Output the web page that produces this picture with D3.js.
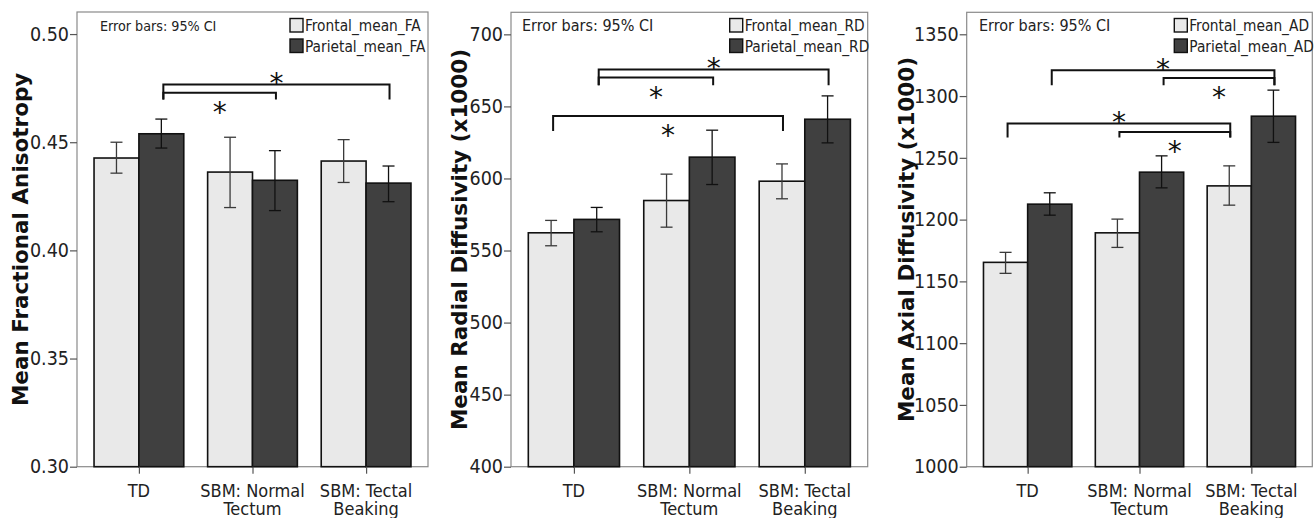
<!DOCTYPE html>
<html>
<head>
<meta charset="utf-8">
<script src="https://cdn.jsdelivr.net/npm/d3@7"></script>
<style>
  body { margin: 0; background: #fff; }
  svg { display: block; }
  .lbl { font-family: "Liberation Sans Narrow", "DejaVu Sans Condensed", "Arial Narrow", sans-serif; fill: #222; }
  .ytitle { font-family: "DejaVu Sans", Verdana, sans-serif; font-weight: bold; fill: #111; }
</style>
</head>
<body>
<div id="chart"></div>
<script>
// group labels (two lines each)
var groups = [["TD"], ["SBM: Normal", "Tectum"], ["SBM: Tectal", "Beaking"]];
var seriesNames = ["Frontal", "Parietal"];

// FA
var faFrontal = [0.4427, 0.4362, 0.4413];
var faFrontalCI = [[0.4357, 0.4500], [0.4198, 0.4523], [0.4314, 0.4512]];
var faParietal = [0.4539, 0.4324, 0.4311];
var faParietalCI = [[0.4473, 0.4607], [0.4184, 0.4461], [0.4225, 0.4390]];
var faTicks = [0.30, 0.35, 0.40, 0.45, 0.50];
var faBrackets = [
  {from: [0, 1], to: [2, 1], level: 0.4767, foot: 0.4698, star: "above"},
  {from: [0, 1], to: [1, 1], level: 0.4729, foot: 0.4698, star: "below"}
];

// RD
var rdFrontal = [562.3, 584.7, 598.1];
var rdFrontalCI = [[553.3, 570.9], [566.2, 603.0], [585.9, 610.1]];
var rdParietal = [571.6, 614.8, 641.1];
var rdParietalCI = [[563.0, 579.9], [595.8, 633.5], [624.7, 657.3]];
var rdTicks = [400, 450, 500, 550, 600, 650, 700];
var rdBrackets = [
  {from: [0, 1], to: [2, 1], level: 675.6, foot: 664.7, star: "above"},
  {from: [0, 1], to: [1, 1], level: 670.0, foot: 664.7, star: "below"},
  {from: [0, 0], to: [2, 0], level: 643.4, foot: 633.0, star: "below"}
];

// AD
var adFrontal = [1165.4, 1189.3, 1227.3];
var adFrontalCI = [[1156.5, 1173.5], [1177.5, 1200.4], [1211.7, 1243.5]];
var adParietal = [1212.5, 1238.4, 1283.7];
var adParietalCI = [[1203.6, 1221.7], [1225.7, 1251.6], [1262.5, 1304.8]];
var adTicks = [1000, 1050, 1100, 1150, 1200, 1250, 1300, 1350];
var adBrackets = [
  {from: [0, 1], to: [2, 1], level: 1320.9, foot: 1308.8, star: "above"},
  {from: [1, 1], to: [2, 1], level: 1314.7, foot: 1308.8, star: "below"},
  {from: [0, 0], to: [2, 0], level: 1277.8, foot: 1266.5, star: "above"},
  {from: [1, 0], to: [2, 0], level: 1271.0, foot: 1266.5, star: "below"}
];

var panels = [
  {left: 77, right: 428, top: 12, bottom: 466.7, domain: [0.30, 0.5102], ticks: faTicks, fmt: d3.format(".2f"),
   frontal: faFrontal, frontalCI: faFrontalCI, parietal: faParietal, parietalCI: faParietalCI, brackets: faBrackets,
   title: "Mean Fractional Anisotropy", titleX: 20, suffix: "FA", errX: 100, errSize: 14.2},
  {left: 511, right: 867.7, top: 12.3, bottom: 466.7, domain: [400, 715.3], ticks: rdTicks, fmt: d3.format("d"),
   frontal: rdFrontal, frontalCI: rdFrontalCI, parietal: rdParietal, parietalCI: rdParietalCI, brackets: rdBrackets,
   title: "Mean Radial Diffusivity (x1000)", titleX: 459, suffix: "RD", errX: 522, errSize: 16},
  {left: 966.7, right: 1312.3, top: 12.3, bottom: 466.7, domain: [1000, 1367.8], ticks: adTicks, fmt: d3.format("d"),
   frontal: adFrontal, frontalCI: adFrontalCI, parietal: adParietal, parietalCI: adParietalCI, brackets: adBrackets,
   title: "Mean Axial Diffusivity (x1000)", titleX: 906, suffix: "AD", errX: 979, errSize: 16}
];

var colors = ["#e9e9e9", "#404040"];

var svg = d3.select("#chart")
  .append("svg")
  .attr("width", 1315)
  .attr("height", 518);

panels.forEach(function(p) {
  var g = svg.append("g");

  var x = d3.scalePoint()
    .domain(d3.range(groups.length))
    .range([p.left, p.right])
    .padding(0.545);
  var barW = x.step() * 0.395;

  var y = d3.scaleLinear()
    .domain(p.domain)
    .range([p.bottom, p.top]);

  // frame
  g.append("rect")
    .attr("x", p.left).attr("y", p.top)
    .attr("width", p.right - p.left).attr("height", p.bottom - p.top)
    .attr("fill", "none").attr("stroke", "#8a8a8a").attr("stroke-width", 1.2);

  // bars
  var bars = [];
  for (var i = 0; i < groups.length; i++) {
    bars.push({g: i, s: 0, v: p.frontal[i], ci: p.frontalCI[i]});
    bars.push({g: i, s: 1, v: p.parietal[i], ci: p.parietalCI[i]});
  }
  function barX(gi, s) { return x(gi) + (s === 0 ? -barW : 0); }
  function barC(gi, s) { return barX(gi, s) + barW / 2; }

  g.selectAll("rect.bar")
    .data(bars)
    .enter()
    .append("rect")
    .attr("class", "bar")
    .attr("x", d => barX(d.g, d.s))
    .attr("y", d => y(d.v))
    .attr("width", barW)
    .attr("height", d => y(p.domain[0]) - y(d.v))
    .attr("fill", d => colors[d.s])
    .attr("stroke", "#111")
    .attr("stroke-width", 1.6);

  // error bars
  var eb = g.selectAll("g.err")
    .data(bars)
    .enter()
    .append("g")
    .attr("stroke", d => d.s === 0 ? "#3a3a3a" : "#111")
    .attr("stroke-width", 1.3);
  eb.append("line")
    .attr("x1", d => barC(d.g, d.s)).attr("x2", d => barC(d.g, d.s))
    .attr("y1", d => y(d.ci[0])).attr("y2", d => y(d.ci[1]));
  eb.append("line")
    .attr("x1", d => barC(d.g, d.s) - 6).attr("x2", d => barC(d.g, d.s) + 6)
    .attr("y1", d => y(d.ci[1])).attr("y2", d => y(d.ci[1]));
  eb.append("line")
    .attr("x1", d => barC(d.g, d.s) - 6).attr("x2", d => barC(d.g, d.s) + 6)
    .attr("y1", d => y(d.ci[0])).attr("y2", d => y(d.ci[0]));

  // y axis
  var leftAxis = d3.axisLeft(y).tickValues(p.ticks).tickFormat(p.fmt).tickSize(7).tickPadding(1);
  var ya = g.append("g")
    .attr("transform", `translate(${p.left}, 0)`)
    .call(leftAxis);
  ya.select(".domain").remove();
  ya.selectAll("line").attr("stroke", "#555").attr("stroke-width", 1.2);
  ya.selectAll("text")
    .attr("class", "lbl")
    .style("font-size", "19.5px")
    .attr("fill", "#222");

  // x axis ticks + labels
  var bottomAxis = d3.axisBottom(x).tickSize(7).tickFormat("");
  var xa = g.append("g")
    .attr("transform", `translate(0, ${p.bottom})`)
    .call(bottomAxis);
  xa.select(".domain").remove();
  xa.selectAll("line").attr("stroke", "#555").attr("stroke-width", 1.2);

  groups.forEach(function(lines, i) {
    var t = g.append("text")
      .attr("class", "lbl")
      .attr("text-anchor", "middle")
      .style("font-size", "18px");
    lines.forEach(function(s, k) {
      t.append("tspan").attr("x", x(i)).attr("y", 496.5 + k * 18.5).text(s);
    });
  });

  // y title
  g.append("text")
    .attr("class", "ytitle")
    .attr("transform", `translate(${p.titleX}, ${(p.top + p.bottom) / 2}) rotate(-90)`)
    .attr("text-anchor", "middle")
    .attr("dy", "0.36em")
    .style("font-size", "21.5px")
    .text(p.title);

  // error bar note
  g.append("text")
    .attr("class", "lbl")
    .attr("x", p.errX).attr("y", 31)
    .style("font-size", p.errSize + "px")
    .text("Error bars: 95% CI");

  // legend
  seriesNames.forEach(function(n, k) {
    var ly = 18.5 + k * 20.5;
    g.append("rect")
      .attr("x", p.right - 138).attr("y", ly)
      .attr("width", 13).attr("height", 13.5)
      .attr("fill", colors[k]).attr("stroke", "#111").attr("stroke-width", 1.4);
    g.append("text")
      .attr("class", "lbl")
      .attr("x", p.right - 123).attr("y", ly + 12.5)
      .style("font-size", "15.3px")
      .text(n + "_mean_" + p.suffix);
  });

  // significance brackets
  p.brackets.forEach(function(b) {
    var x1 = barC(b.from[0], b.from[1]) + 2;
    var x2 = barC(b.to[0], b.to[1]) + 1;
    var yl = y(b.level), yf = y(b.foot);
    g.append("path")
      .attr("d", `M${x1},${yf}V${yl}H${x2}V${yf}`)
      .attr("fill", "none")
      .attr("stroke", "#111")
      .attr("stroke-width", 2);
    g.append("text")
      .attr("x", (x1 + x2) / 2)
      .attr("y", b.star === "above" ? yl - 9 : yl + 12)
      .attr("text-anchor", "middle")
      .attr("dy", "0.62em")
      .style("font-family", "DejaVu Sans, sans-serif")
      .style("font-size", "28px")
      .attr("fill", "#111")
      .text("*");
  });
});
</script>
</body>
</html>
